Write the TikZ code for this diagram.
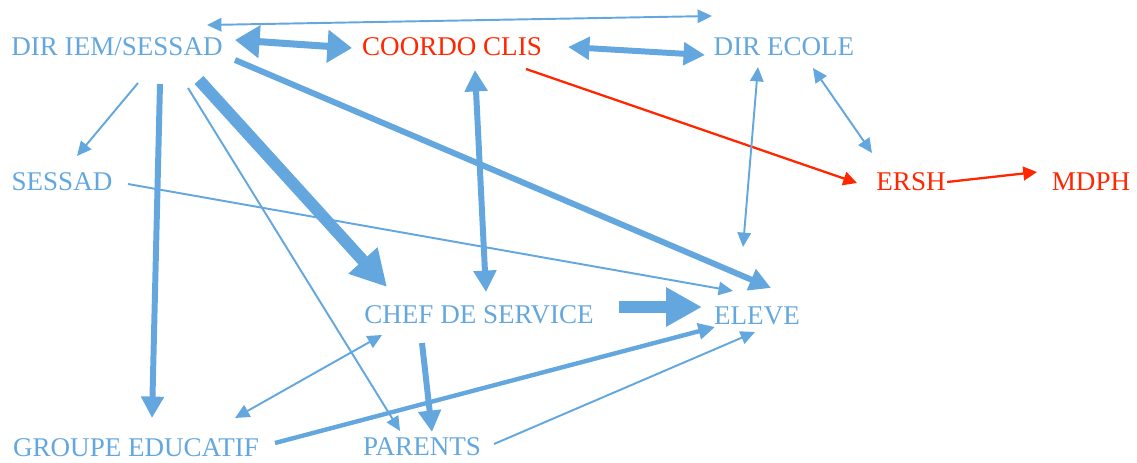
\documentclass[tikz,border=0pt]{standalone}
\usepackage{fontspec}
\setmainfont{Liberation Serif}
\usetikzlibrary{arrows.meta,calc}
\definecolor{bleu}{RGB}{99,167,222}
\definecolor{rouge}{RGB}{255,38,0}
\tikzstyle{actor}=[inner sep=0pt,text height=10.2pt,text depth=0pt,font=\fontsize{15.4}{18}\selectfont]
\tikzstyle{arrthin}=[draw=bleu,line width=1.1pt,>={Triangle[length=8.2pt,width=7.6pt]}]
\tikzstyle{arrmid}=[draw=bleu,line width=2.5pt,>={Triangle[length=9.5pt,width=9pt]}]
\tikzstyle{arrthick}=[draw=bleu,line width=3.4pt,>={Triangle[length=12.2pt,width=12.5pt]}]
\tikzstyle{arrwide}=[draw=bleu,line width=4pt,>={Triangle[length=14pt,width=18pt]}]
\tikzstyle{arrhuge}=[draw=bleu,line width=6.8pt,>={Triangle[length=20.4pt,width=21pt]}]
\tikzstyle{arrred}=[draw=rouge,line width=1.3pt,>={Triangle[length=7.8pt,width=7.8pt]}]

\begin{document}
\begin{tikzpicture}[x=0.02cm,y=-0.02cm]
    \useasboundingbox (0,0) rectangle (1137,463);
    \foreach \pos/\name/\txt/\col in {{(117,47)/dir/{DIR IEM/SESSAD}/bleu},
    {(452,47)/coordo/COORDO CLIS/rouge}, {(784,47)/ecole/DIR ECOLE/bleu},
    {(62,182)/sessad/SESSAD/bleu}, {(911,182)/ersh/ERSH/rouge},
    {(1091,182)/mdph/MDPH/rouge}, {(479,315)/chef/CHEF DE SERVICE/bleu},
    {(757,316)/eleve/ELEVE/bleu}, {(136,448)/groupe/GROUPE EDUCATIF/bleu},
    {(422,447)/parents/PARENTS/bleu}}
        \node[actor,text=\col] (\name) at \pos {\txt};

    % one way
    \foreach \a/\ax/\ay/\b/\bx/\by/\s in
    {{dir/21/36/sessad/15/-26/arrthin}, {dir/43/37/groupe/16/-30/arrthick},
    {dir/71/41/parents/-22/-16/arrthin}, {dir/82/33/chef/-92/-28/arrhuge},
    {dir/118/13/eleve/14/-28/arrthick}, {coordo/74/22/ersh/-54/1/arrred},
    {ersh/36/0/mdph/-54/-10/arrred}, {sessad/66/2/eleve/-24/-25/arrthin},
    {chef/140/-8/eleve/-55/-9/arrhuge}, {chef/-57/28/parents/10/-15/arrthick},
    {groupe/139/-5/eleve/-42/11/arrmid}, {parents/72/-3/eleve/-2/16/arrthin}}
        \path[\s,->] ($(\a)+(\ax,\ay)$) -- ($(\b)+(\bx,\by)$);

    % both ways
    \foreach \a/\ax/\ay/\b/\bx/\by/\s in
    {{dir/90/-22/ecole/-72/-31/arrthin}, {dir/118/-7/coordo/-100/1/arrwide},
    {coordo/116/0/ecole/-79/8/arrthick}, {coordo/23/23/chef/7/-23/arrthick},
    {ecole/-26/20/eleve/-14/-69/arrthin}, {ecole/29/21/ersh/-39/-29/arrthin},
    {chef/-97/20/groupe/99/-30/arrthin}}
        \path[\s,<->] ($(\a)+(\ax,\ay)$) -- ($(\b)+(\bx,\by)$);
\end{tikzpicture}
\end{document}
